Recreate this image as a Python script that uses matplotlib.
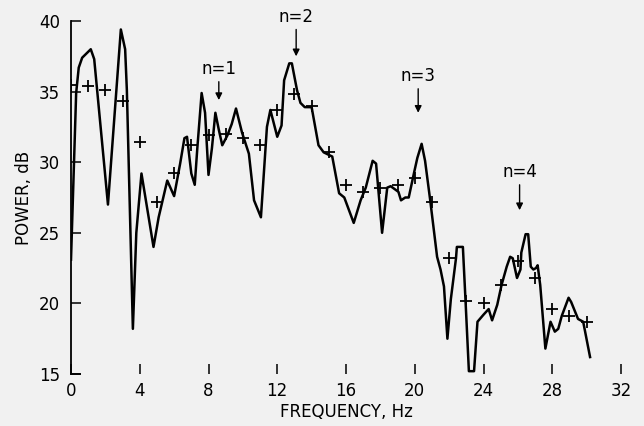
import matplotlib
matplotlib.use("Agg")
import matplotlib.pyplot as plt

# spectrum curve (Hz, dB)
freq = [0.0, 0.3, 0.45, 0.65, 1.15, 1.35, 2.15, 2.9, 3.15, 3.25, 3.6, 3.8, 4.1, 4.8, 5.1,
        5.6, 6.0, 6.35, 6.6, 6.75, 7.0, 7.2, 7.35, 7.6, 7.8, 8.0, 8.2, 8.4, 8.6, 8.8,
        9.1, 9.35, 9.6, 9.95, 10.35, 10.65, 11.05, 11.4, 11.6, 12.0, 12.25, 12.4, 12.7,
        12.85, 13.15, 13.35, 13.6, 14.0, 14.4, 14.7, 15.2, 15.6, 15.9, 16.45, 16.85,
        17.15, 17.55, 17.75, 18.1, 18.4, 18.6, 19.05, 19.2, 19.45, 19.65, 19.95, 20.15,
        20.4, 20.6, 20.9, 21.3, 21.5, 21.7, 21.9, 22.1, 22.4, 22.45, 22.8, 22.95, 23.15,
        23.45, 23.65, 24.0, 24.3, 24.5, 24.8, 25.05, 25.35, 25.55, 25.7, 25.95, 26.15,
        26.2, 26.45, 26.6, 26.75, 26.9, 27.05, 27.15, 27.3, 27.6, 27.9, 28.15, 28.35,
        28.55, 28.95, 29.1, 29.5, 29.8, 30.2]
power = [23.1, 34.9, 36.7, 37.4, 38.0, 37.3, 27.0, 39.4, 38.0, 35.1, 18.2, 25.0, 29.2,
         24.0, 26.1, 28.7, 27.6, 29.9, 31.7, 31.8, 29.2, 28.4, 31.0, 34.9, 33.5, 29.1,
         31.0, 33.5, 32.3, 31.2, 31.9, 32.7, 33.8, 32.1, 30.6, 27.3, 26.1, 32.5, 33.7,
         31.8, 32.6, 35.8, 37.0, 37.0, 35.1, 34.2, 33.9, 33.9, 31.2, 30.7, 30.4, 27.8,
         27.5, 25.7, 27.3, 28.2, 30.1, 29.9, 25.0, 28.2, 28.3, 27.9, 27.3, 27.5, 27.5,
         29.2, 30.3, 31.3, 30.1, 27.3, 23.3, 22.4, 21.2, 17.5, 20.3, 23.2, 24.0, 24.0,
         20.3, 15.2, 15.2, 18.7, 19.2, 19.6, 18.8, 19.9, 21.3, 22.6, 23.3, 23.2, 21.8,
         22.4, 23.6, 24.9, 24.9, 22.6, 22.4, 22.5, 22.7, 21.3, 16.8, 18.7, 18.0, 18.2,
         19.1, 20.4, 20.1, 18.9, 18.7, 16.2]

# smoothed estimate (+ markers)
mark_freq = list(range(0, 31))
mark_power = [35.5, 35.4, 35.1, 34.3, 31.4, 27.2, 29.2, 31.2, 31.9, 32.0, 31.7, 31.2,
              33.7, 34.8, 34.0, 30.7, 28.4, 27.9, 28.2, 28.4, 28.9, 27.2, 23.2, 20.2,
              20.0, 21.3, 23.0, 21.8, 19.6, 19.1, 18.7]

# harmonic annotations
harm_labels = ["n=1", "n=2", "n=3", "n=4"]
harm_freq = [8.6, 13.1, 20.2, 26.1]
harm_text_y = [36.6, 40.3, 36.1, 29.3]
harm_tip_y = [34.4, 37.5, 33.5, 26.6]

xticks = [0, 4, 8, 12, 16, 20, 24, 28, 32]
yticks = [15, 20, 25, 30, 35, 40]

bg = "#f1f1f1"
fig = plt.figure(figsize=(6.44, 4.26), dpi=100, facecolor=bg)
ax = fig.add_axes([71/644, 52/426, (621-71)/644, (374-21)/426])
ax.set_facecolor(bg)

ax.plot(freq, power, color="black", lw=1.8, solid_joinstyle="round", zorder=3)
ax.plot(mark_freq, mark_power, ls="none", marker="+", ms=9, mew=1.3, color="black", zorder=4)

for lab, fx, ty, tipy in zip(harm_labels, harm_freq, harm_text_y, harm_tip_y):
    ax.text(fx, ty, lab, ha="center", va="center", fontsize=12, clip_on=False)
    ax.annotate("", xy=(fx, tipy), xytext=(fx, ty - 0.9),
                arrowprops=dict(arrowstyle="-|>", color="black", lw=1.0,
                                mutation_scale=10, shrinkA=0, shrinkB=0),
                annotation_clip=False)

ax.set_xlim(0, 32)
ax.set_ylim(15, 40)
ax.set_xticks(xticks)
ax.set_yticks(yticks)
for s in ["top", "right"]:
    ax.spines[s].set_visible(False)
ax.spines["bottom"].set_bounds(0, 0.5)
ax.spines["left"].set_linewidth(1.3)
ax.spines["bottom"].set_linewidth(1.3)
ax.tick_params(axis="both", direction="in", length=7, width=1.1, labelsize=12)
ax.tick_params(axis="y", pad=8)
ax.tick_params(axis="x", pad=6)
ax.set_xlabel("FREQUENCY, Hz", fontsize=12, labelpad=2)
ax.set_ylabel("POWER, dB", fontsize=12, labelpad=4)

fig.savefig("out.png", dpi=100, facecolor=bg)
